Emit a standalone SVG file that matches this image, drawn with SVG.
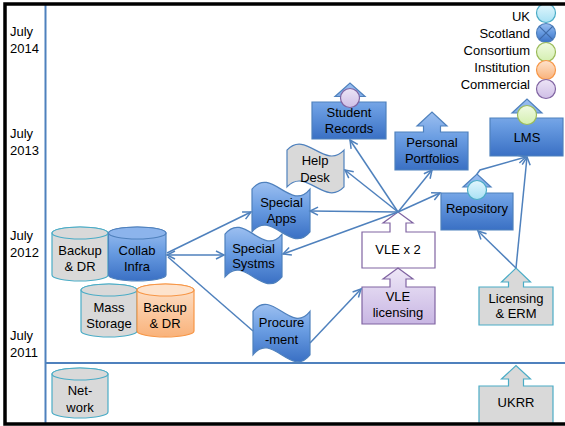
<svg xmlns="http://www.w3.org/2000/svg" width="565" height="426" viewBox="0 0 565 426">
  <defs>
    <linearGradient id="gBlue" x1="0" y1="0" x2="0" y2="1">
      <stop offset="0" stop-color="#9cbff0"/>
      <stop offset="0.45" stop-color="#6a9de2"/>
      <stop offset="1" stop-color="#3a70c4"/>
    </linearGradient>
    <linearGradient id="gOrange" x1="0" y1="0" x2="0" y2="1">
      <stop offset="0" stop-color="#fde3cd"/>
      <stop offset="1" stop-color="#f9b27a"/>
    </linearGradient>
    <linearGradient id="gPurple" x1="0" y1="0" x2="0" y2="1">
      <stop offset="0" stop-color="#eee7f7"/>
      <stop offset="1" stop-color="#c8b6e3"/>
    </linearGradient>
    <linearGradient id="gCyan" x1="0" y1="0" x2="0" y2="1">
      <stop offset="0" stop-color="#e2f6fd"/>
      <stop offset="1" stop-color="#a8e1f4"/>
    </linearGradient>
    <linearGradient id="gGreen" x1="0" y1="0" x2="0" y2="1">
      <stop offset="0" stop-color="#f0fae2"/>
      <stop offset="1" stop-color="#d4efb0"/>
    </linearGradient>
    <linearGradient id="gLav" x1="0" y1="0" x2="0" y2="1">
      <stop offset="0" stop-color="#ece4f6"/>
      <stop offset="1" stop-color="#cfbfe6"/>
    </linearGradient>
    <marker id="arr" markerUnits="userSpaceOnUse" markerWidth="12" markerHeight="12" refX="9" refY="5" orient="auto-start-reverse">
      <path d="M1,1 L9,5 L1,9" fill="none" stroke="#4f81bd" stroke-width="1.5"/>
    </marker>
  </defs>
  <style>
    text { font-family: "Liberation Sans", Arial, sans-serif; font-size: 13px; fill: #000; }
    .c { text-anchor: middle; }
    .e { text-anchor: end; }
    .blue { fill: url(#gBlue); stroke: #4f81bd; stroke-width: 1.2; }
    .gray { fill: #d9d9d9; stroke: #4bacc6; stroke-width: 1.2; }
    .grayb { fill: #d9d9d9; stroke: #4f81bd; stroke-width: 1.2; }
    .orange { fill: url(#gOrange); stroke: #f79646; stroke-width: 1.2; }
    .purple { fill: url(#gPurple); stroke: #8064a2; stroke-width: 1.2; }
    .white { fill: #ffffff; stroke: #8064a2; stroke-width: 1.2; }
    .uk { fill: url(#gCyan); stroke: #4bacc6; stroke-width: 1.2; }
    .cons { fill: url(#gGreen); stroke: #9bbb59; stroke-width: 1.2; }
    .inst { fill: url(#gOrange); stroke: #f79646; stroke-width: 1.2; }
    .comm { fill: url(#gLav); stroke: #8064a2; stroke-width: 1.2; }
    .axis { stroke: #4f81bd; stroke-width: 2; fill: none; }
    .link { stroke: #4f81bd; stroke-width: 1.5; fill: none; }
  </style>

  <rect width="565" height="426" fill="#ffffff"/>

  <!-- timeline axes -->
  <line class="axis" x1="45.5" y1="5" x2="45.5" y2="423"/>
  <line class="axis" x1="45.5" y1="363" x2="565" y2="363"/>

  <!-- year labels -->
  <g id="years">
    <text x="10" y="36">July</text><text x="10" y="53">2014</text>
    <text x="10" y="138">July</text><text x="10" y="155">2013</text>
    <text x="10" y="240">July</text><text x="10" y="257">2012</text>
    <text x="10" y="340">July</text><text x="10" y="357">2011</text>
  </g>

  <!-- legend -->
  <g id="legend">
    <text class="e" x="530" y="21">UK</text>
    <circle class="uk" cx="546" cy="13" r="9.5"/>
    <text class="e" x="530" y="38">Scotland</text>
    <circle cx="546" cy="33" r="9.5" fill="url(#gBlue)" stroke="#4f81bd" stroke-width="1.2"/>
    <path d="M539.3,26.3 L552.7,39.7 M552.7,26.3 L539.3,39.7" stroke="#3e6aa8" stroke-width="1.2"/>
    <text class="e" x="530" y="55">Consortium</text>
    <circle class="cons" cx="546" cy="52" r="9.5"/>
    <text class="e" x="530" y="72">Institution</text>
    <circle class="inst" cx="546" cy="70" r="9.5"/>
    <text class="e" x="530" y="89">Commercial</text>
    <circle class="comm" cx="546" cy="89" r="9.5"/>
  </g>

  <!-- storage cylinders -->
  <g id="backup-gray">
    <path class="gray" d="M52,233 L52,275 A28,6 0 0 0 108,275 L108,233 A28,6 0 0 0 52,233 Z"/>
    <ellipse class="gray" cx="80" cy="233" rx="28" ry="6"/>
    <text class="c" x="80" y="255">Backup</text><text class="c" x="80" y="271">&amp; DR</text>
  </g>
  <g id="collab-infra">
    <path class="blue" d="M108.5,233 L108.5,275 A28.75,6 0 0 0 166,275 L166,233 A28.75,6 0 0 0 108.5,233 Z"/>
    <ellipse cx="137.25" cy="233" rx="28.75" ry="6" fill="#8cb4ec" stroke="#4f81bd" stroke-width="1.2"/>
    <text class="c" x="137" y="255">Collab</text><text class="c" x="137" y="271">Infra</text>
  </g>
  <g id="mass-storage">
    <path class="gray" d="M81,290 L81,331 A28,6 0 0 0 137,331 L137,290 A28,6 0 0 0 81,290 Z"/>
    <ellipse class="gray" cx="109" cy="290" rx="28" ry="6"/>
    <text class="c" x="109" y="312">Mass</text><text class="c" x="109" y="328">Storage</text>
  </g>
  <g id="backup-orange">
    <path class="orange" d="M137,290 L137,331 A28.5,6 0 0 0 194,331 L194,290 A28.5,6 0 0 0 137,290 Z"/>
    <ellipse cx="165.5" cy="290" rx="28.5" ry="6" fill="#fde3cd" stroke="#f79646" stroke-width="1.2"/>
    <text class="c" x="165" y="312">Backup</text><text class="c" x="165" y="328">&amp; DR</text>
  </g>
  <g id="network">
    <path class="gray" d="M52,374 L52,412 A28,6 0 0 0 108,412 L108,374 A28,6 0 0 0 52,374 Z"/>
    <ellipse class="gray" cx="80" cy="374" rx="28" ry="6"/>
    <text class="c" x="80" y="395">Net-</text><text class="c" x="80" y="412">work</text>
  </g>

  <!-- wave-shaped services -->
  <g id="help-desk">
    <path class="grayb" d="M287,150.1 C306,129.7 325,170.5 344,150.1 L344,186.9 C325,207.3 306,166.5 287,186.9 Z"/>
    <text class="c" x="315" y="165">Help</text><text class="c" x="315" y="182">Desk</text>
  </g>
  <g id="special-apps">
    <path class="blue" d="M252,189.1 C271.3,165.4 290.7,212.9 310,189.1 L310,231.9 C290.7,255.6 271.3,208.1 252,231.9 Z"/>
    <text class="c" x="281.5" y="207">Special</text><text class="c" x="281.5" y="223">Apps</text>
  </g>
  <g id="special-systms">
    <path class="blue" d="M225,234.1 C244,210.4 263,257.9 282,234.1 L282,276.9 C263,300.7 244,253.2 225,276.9 Z"/>
    <text class="c" x="253.5" y="253">Special</text><text class="c" x="253.5" y="268">Systms</text>
  </g>
  <g id="procurement">
    <path class="blue" d="M253,311.3 C272,287.1 291,335.5 310,311.3 L310,354.8 C291,379 272,330.6 253,354.8 Z"/>
    <text class="c" x="281.5" y="327">Procure</text><text class="c" x="281.5" y="344">-ment</text>
  </g>

  <!-- callout boxes with up arrows -->
  <g id="student-records">
    <path class="blue" d="M312,102 H341.5 V96.5 H335 L350,83 L365,96.5 H358.5 V102 H386 V139 H312 Z"/>
    <circle class="comm" cx="350" cy="98" r="9.5"/>
    <text class="c" x="349" y="117">Student</text><text class="c" x="349" y="133">Records</text>
  </g>
  <g id="personal-portfolios">
    <path class="blue" d="M395,132 H423.5 V126 H417 L432,112 L447,126 H440.5 V132 H468 V170 H395 Z"/>
    <text class="c" x="432" y="147">Personal</text><text class="c" x="432" y="163">Portfolios</text>
  </g>
  <g id="lms">
    <path class="blue" d="M490,118 H518.5 V113 H512 L527,99 L542,113 H535.5 V118 H563 V156 H490 Z"/>
    <circle class="cons" cx="527" cy="115" r="9.5"/>
    <text class="c" x="527" y="142">LMS</text>
  </g>
  <g id="repository">
    <path class="blue" d="M441,193 H469 V187 H463 L477,174 L491,187 H485 V193 H513 V230 H441 Z"/>
    <circle class="uk" cx="477" cy="190" r="9.5"/>
    <text class="c" x="477" y="213">Repository</text>
  </g>
  <g id="vle-x2">
    <path class="white" d="M362,232 H390 V223 H383 L398,212 L413,223 H406 V232 H435 V268 H362 Z"/>
    <text class="c" x="398" y="254">VLE x 2</text>
  </g>
  <g id="vle-licensing">
    <path class="purple" d="M362,287 H390 V279 H383 L398,268 L413,279 H406 V287 H435 V324 H362 Z"/>
    <text class="c" x="398" y="301">VLE</text><text class="c" x="398" y="317">licensing</text>
  </g>
  <g id="licensing-erm">
    <path class="gray" d="M479,287 H508.5 V282 H501.5 L516,268 L530.5,282 H523.5 V287 H553 V325 H479 Z"/>
    <text class="c" x="516" y="303">Licensing</text><text class="c" x="516" y="318">&amp; ERM</text>
  </g>
  <g id="ukrr">
    <path class="gray" d="M479,386 H508.5 V379 H501.5 L516,365.5 L530.5,379 H523.5 V386 H553 V424 H479 Z"/>
    <text class="c" x="516" y="407">UKRR</text>
  </g>

  <!-- connectors -->
  <g id="connectors">
    <line class="link" x1="167" y1="253" x2="251" y2="212" marker-end="url(#arr)"/>
    <line class="link" x1="167" y1="255" x2="224" y2="255" marker-start="url(#arr)" marker-end="url(#arr)"/>
    <line class="link" x1="168" y1="257" x2="253" y2="331"/>
    <line class="link" x1="310" y1="343" x2="361" y2="289" marker-end="url(#arr)"/>
    <line class="link" x1="398" y1="212" x2="350" y2="140" marker-end="url(#arr)"/>
    <line class="link" x1="398" y1="212" x2="345" y2="170" marker-end="url(#arr)"/>
    <line class="link" x1="398" y1="212" x2="310" y2="211" marker-end="url(#arr)"/>
    <line class="link" x1="398" y1="212" x2="283" y2="254" marker-end="url(#arr)"/>
    <line class="link" x1="398" y1="212" x2="432" y2="170" marker-end="url(#arr)"/>
    <line class="link" x1="398" y1="212" x2="440" y2="193" marker-end="url(#arr)"/>
    <polyline class="link" points="477,174 480,170 526,157" marker-end="url(#arr)"/>
    <line class="link" x1="516" y1="268" x2="478" y2="231" marker-end="url(#arr)"/>
    <line class="link" x1="516" y1="268" x2="527" y2="157" marker-end="url(#arr)"/>
  </g>

  <!-- outer frame -->
  <rect x="5" y="4" width="600" height="420" fill="none" stroke="#000" stroke-width="3.5"/>
</svg>
